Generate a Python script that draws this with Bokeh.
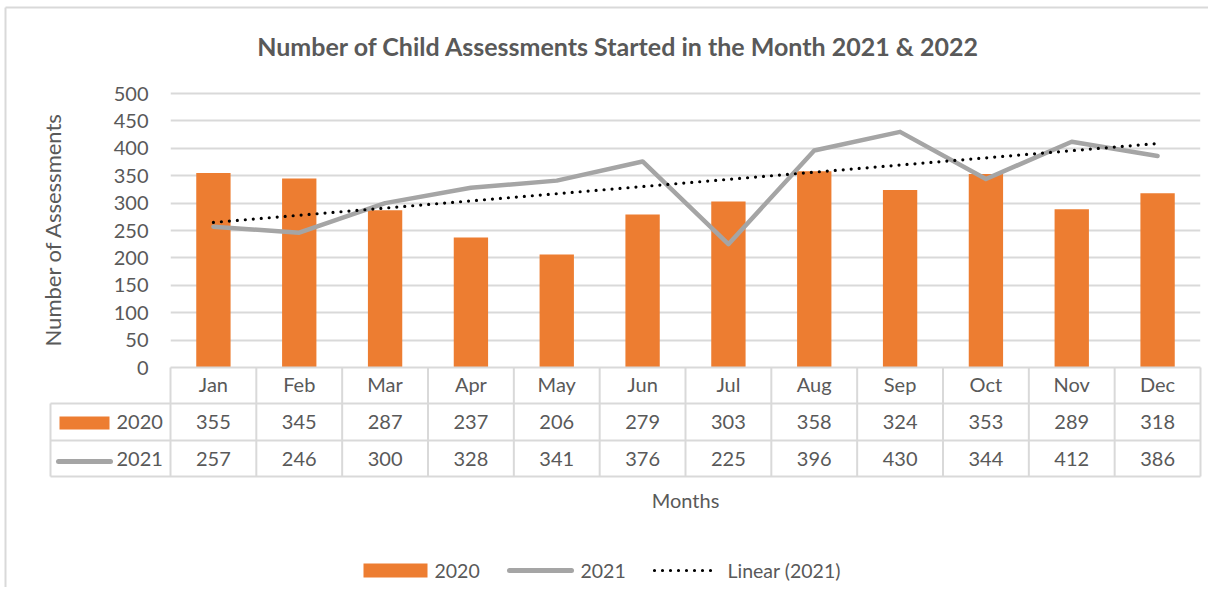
import numpy as np
from bokeh.plotting import figure
from bokeh.models import Range1d, FixedTicker
from bokeh.embed import file_html
from bokeh.resources import INLINE
from bokeh.core.properties import value

# ---------------- data ----------------
months = ["Jan", "Feb", "Mar", "Apr", "May", "Jun", "Jul", "Aug", "Sep", "Oct", "Nov", "Dec"]
series_2020 = [355, 345, 287, 237, 206, 279, 303, 358, 324, 353, 289, 318]
series_2021 = [257, 246, 300, 328, 341, 376, 225, 396, 430, 344, 412, 386]
series_names = ["2020", "2021"]
trend_label = "Linear (2021)"
y_ticks = [0, 50, 100, 150, 200, 250, 300, 350, 400, 450, 500]
title_text = "Number of Child Assessments Started in the Month 2021 & 2022"
y_label = "Number of Assessments"
x_label = "Months"

# ---------------- style / layout ----------------
ORANGE = "#ed7d31"
GRAY = "#a5a5a5"
GRID = "#d9d9d9"
TEXT = "#595959"
FONT = "Lato"

W, H = 1208, 587
FL, FR, FT, FB = 170, 1200, 91, 367          # frame edges in canvas px
PX_X = (FR - FL) / 12.0                      # px per category
PX_Y = 274.0 / 500.0                         # px per unit
YMAX = (FB - FT) / PX_Y


def X(px):
    return -0.5 + (px - FL) / PX_X


def Y(py):
    return (FB - py) / PX_Y


xs = list(range(len(months)))

p = figure(width=W, height=H, output_backend="svg", toolbar_location=None,
           x_range=Range1d(-0.5, 11.5), y_range=Range1d(0, YMAX),
           min_border_left=FL, min_border_right=W - FR,
           min_border_top=FT, min_border_bottom=H - FB)
p.background_fill_color = "white"
p.border_fill_color = "white"
p.outline_line_color = None

# axes
p.yaxis.ticker = FixedTicker(ticks=y_ticks)
p.yaxis.axis_line_color = None
p.yaxis.major_tick_line_color = None
p.yaxis.minor_tick_line_color = None
p.yaxis.major_tick_out = 0
p.yaxis.major_tick_in = 0
p.yaxis.major_label_standoff = 22
p.yaxis.major_label_text_font = FONT
p.yaxis.major_label_text_font_size = "20px"
p.yaxis.major_label_text_color = TEXT
p.yaxis.axis_label = y_label
p.yaxis.axis_label_text_font = FONT
p.yaxis.axis_label_text_font_size = "22px"
p.yaxis.axis_label_text_font_style = "normal"
p.yaxis.axis_label_text_color = TEXT
p.yaxis.axis_label_standoff = 45

p.xaxis.ticker = FixedTicker(ticks=xs)
p.xaxis.major_label_overrides = {i: m for i, m in enumerate(months)}
p.xaxis.axis_line_color = GRID
p.xaxis.axis_line_width = 2
p.xaxis.major_tick_line_color = None
p.xaxis.minor_tick_line_color = None
p.xaxis.major_tick_out = 0
p.xaxis.major_tick_in = 0
p.xaxis.major_label_standoff = 4
p.xaxis.major_label_text_font = FONT
p.xaxis.major_label_text_font_size = "20px"
p.xaxis.major_label_text_color = TEXT
p.xaxis.axis_label = x_label
p.xaxis.axis_label_text_font = FONT
p.xaxis.axis_label_text_font_size = "20px"
p.xaxis.axis_label_text_font_style = "normal"
p.xaxis.axis_label_text_color = TEXT
p.xaxis.axis_label_standoff = 89

p.xgrid.visible = False
p.ygrid.grid_line_color = GRID
p.ygrid.grid_line_width = 2

# ---------------- marks ----------------
bars = p.vbar(x=xs, top=series_2020, width=0.4, fill_color=ORANGE, line_color=None)
line21 = p.line(xs, series_2021, line_color=GRAY, line_width=4.5,
                line_join="round", line_cap="round")
slope, intercept = np.polyfit(xs, series_2021, 1)
tx = [xs[0], xs[-1]]
ty = [intercept + slope * v for v in tx]
trend = p.line(tx, ty, line_color="black", line_width=3.2, line_dash="0 8", line_cap="round")

# ---------------- title ----------------
p.text(x=[X(618)], y=[Y(45)], text=[title_text], text_align="center",
       text_baseline="middle", text_font=value(FONT), text_font_size="25px",
       text_font_style="bold", text_color=TEXT, level="overlay")

# ---------------- data table under the axis ----------------
row_top, row1, row2, row_bot = Y(367), Y(403), Y(440), Y(476)
left = X(50)
edges = [v - 0.5 for v in range(len(months) + 1)]
p.segment(x0=edges, y0=[row_top] * len(edges), x1=edges, y1=[row_bot] * len(edges),
          line_color=GRID, line_width=2, level="overlay")
p.segment(x0=[left] * 3, y0=[row1, row2, row_bot], x1=[11.5] * 3, y1=[row1, row2, row_bot],
          line_color=GRID, line_width=2, level="overlay")
p.segment(x0=[left], y0=[row1], x1=[left], y1=[row_bot],
          line_color=GRID, line_width=2, level="overlay")

c1 = (row1 + row2) / 2
c2 = (row2 + row_bot) / 2
p.text(x=xs, y=[c1] * len(xs), text=[str(v) for v in series_2020],
       text_align="center", text_baseline="middle", text_font=value(FONT),
       text_font_size="20px", text_color=TEXT, level="overlay")
p.text(x=xs, y=[c2] * len(xs), text=[str(v) for v in series_2021],
       text_align="center", text_baseline="middle", text_font=value(FONT),
       text_font_size="20px", text_color=TEXT, level="overlay")

# legend keys inside table
p.quad(left=[X(59)], right=[X(109)], top=[Y(416)], bottom=[Y(429)],
       fill_color=ORANGE, line_color=None, level="overlay")
p.line([X(58), X(110)], [Y(461), Y(461)], line_color=GRAY, line_width=5,
       line_cap="round", level="overlay")
p.text(x=[X(116), X(116)], y=[c1, c2], text=series_names, text_align="left",
       text_baseline="middle", text_font=value(FONT), text_font_size="20px",
       text_color=TEXT, level="overlay")

# chart border (top and left)
p.segment(x0=[X(5), X(5)], y0=[Y(7), Y(7)], x1=[X(W), X(5)], y1=[Y(7), Y(H)],
          line_color=GRID, line_width=2, level="overlay")

# ---------------- legend (bottom) ----------------
ly = Y(570)
p.quad(left=[X(363)], right=[X(427)], top=[Y(563)], bottom=[Y(577)],
       fill_color=ORANGE, line_color=None, level="overlay")
p.line([X(509), X(571)], [ly, ly], line_color=GRAY, line_width=5,
       line_cap="round", level="overlay")
p.line([X(654), X(718)], [ly, ly], line_color="black", line_width=3.2,
       line_dash="0 8", line_cap="round", level="overlay")
p.text(x=[X(434), X(580), X(727)], y=[ly] * 3,
       text=[series_names[0], series_names[1], trend_label], text_align="left",
       text_baseline="middle", text_font=value(FONT), text_font_size="19.5px",
       text_color=TEXT, level="overlay")

open("out.html", "w").write(file_html(p, INLINE))
